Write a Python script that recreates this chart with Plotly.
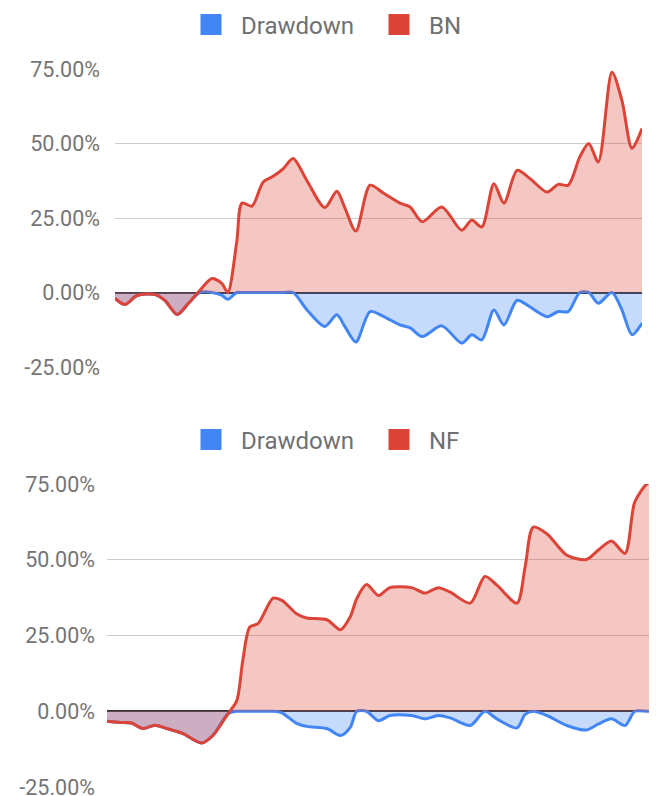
import plotly.graph_objects as go

# ---------------- data ----------------
# period positions (0..100 along the hidden x axis)
bn_period = [0, 1.9, 4.2, 7.6, 9.5, 11.8, 13.9, 16.1, 18.4, 20.3, 21.4, 23.1, 24.1, 26.0,
             28.1, 30.0, 31.9, 33.8, 36.4, 39.8, 42.1, 43.6, 45.7, 48.4, 50.9, 54.1, 56.0,
             58.3, 62.0, 65.8, 67.7, 69.6, 71.9, 73.8, 76.3, 78.7, 82.0, 84.1, 86.0, 88.2,
             89.9, 91.7, 94.3, 96.2, 98.1, 100]
bn_values = [-2.0, -4.0, -1.0, -0.7, -2.7, -7.4, -3.7, 0.7, 4.7, 3.0, 0.0, 17.0, 30.0, 29.0,
             37.0, 39.0, 41.5, 45.0, 37.6, 28.5, 34.0, 28.5, 20.6, 36.0, 33.4, 30.0, 28.7,
             23.7, 28.7, 20.9, 24.3, 22.0, 36.5, 30.0, 41.0, 38.3, 33.7, 36.3, 36.0, 45.5,
             50.0, 43.8, 73.9, 64.4, 48.4, 55.0]
bn_drawdown = [-2.0, -4.0, -1.0, -0.7, -2.7, -7.4, -3.7, 0.0, 0.0, -1.0, -2.3, 0.0, 0.0, 0.0,
               0.0, 0.0, 0.0, 0.0, -5.8, -11.4, -7.5, -11.4, -16.6, -6.4, -8.0, -10.9, -11.9,
               -14.8, -11.2, -17.0, -14.2, -15.9, -5.9, -10.9, -2.6, -4.8, -8.1, -6.4, -6.4, 0.0,
               0.0, -3.6, 0.0, -5.9, -14.2, -10.3]

nf_period = [0, 2.4, 4.5, 6.6, 8.8, 11.0, 14.0, 17.4, 19.5, 22.3, 23.9, 25.0, 26.3, 27.8,
             30.6, 32.2, 34.9, 36.8, 40.5, 43.0, 44.8, 46.0, 47.8, 50.0, 52.1, 56.1, 58.6,
             61.0, 63.2, 66.9, 69.6, 71.8, 75.5, 77.0, 78.5, 81.0, 84.7, 88.3, 90.5, 92.9,
             95.4, 97.2, 99.4, 100]
nf_values = [-3.3, -3.7, -3.9, -5.7, -4.6, -5.7, -7.4, -10.5, -8.0, -0.8, 3.5, 16.7, 27.8, 28.9,
             37.3, 36.6, 32.2, 30.8, 30.2, 26.9, 31.2, 37.2, 41.8, 38.2, 40.8, 40.8, 39.0,
             40.8, 39.3, 35.7, 44.5, 41.6, 35.7, 47.6, 60.8, 58.6, 51.5, 50.1, 53.2, 56.2,
             52.1, 69.1, 75.0, 75.4]
nf_drawdown = [-3.3, -3.7, -3.9, -5.7, -4.6, -5.7, -7.4, -10.5, -8.0, -0.8, 0.0, 0.0, 0.0, 0.0,
               0.0, -0.5, -4.0, -5.0, -5.7, -8.0, -5.3, 0.0, 0.0, -3.1, -1.4, -1.4, -2.5,
               -1.4, -2.2, -4.7, 0.0, -2.5, -5.5, -1.0, 0.0, -1.4, -4.7, -6.2, -4.2, -2.5,
               -4.7, 0.0, 0.0, 0.0]

tick_vals = [-25, 0, 25, 50, 75]
tick_text = ["-25.00%", "0.00%", "25.00%", "50.00%", "75.00%"]

BLUE = "#4285F4"
RED = "#DB4437"
BLUE_FILL = "rgba(66,133,244,0.3)"
RED_FILL = "rgba(219,68,55,0.3)"
FONT = "Roboto, Arial, sans-serif"

fig = go.Figure()


def add_panel(period, values, drawdown, name, xa, ya, legend):
    fig.add_trace(go.Scatter(x=period, y=drawdown, mode="lines", fill="tozeroy",
                             fillcolor=BLUE_FILL, line=dict(color=BLUE, width=3, shape="spline", smoothing=0.8),
                             xaxis=xa, yaxis=ya, showlegend=False, hoverinfo="skip"))
    fig.add_trace(go.Scatter(x=period, y=values, mode="lines", fill="tozeroy",
                             fillcolor=RED_FILL, line=dict(color=RED, width=3, shape="spline", smoothing=0.8),
                             xaxis=xa, yaxis=ya, showlegend=False, hoverinfo="skip"))
    for nm, col in (("Drawdown", BLUE), (name, RED)):
        fig.add_trace(go.Scatter(x=[None], y=[None], mode="markers", name=nm,
                                 marker=dict(symbol="square", size=16, color=col,
                                             line=dict(color=col, width=5)),
                                 xaxis=xa, yaxis=ya, legend=legend, showlegend=True))


add_panel(bn_period, bn_values, bn_drawdown, "BN", "x", "y", "legend")
add_panel(nf_period, nf_values, nf_drawdown, "NF", "x2", "y2", "legend2")

# the page body adds an 8px offset; lay the figure out relative to that
OFF = 8
W, H = 657 - OFF, 796


def fx(px):
    return (px - OFF) / W


def fy(py):
    return 1 - (py - OFF) / H


yaxis_common = dict(range=[-25, 75], tickvals=tick_vals, ticktext=tick_text,
                    showgrid=True, gridcolor="#cccccc", gridwidth=1,
                    zeroline=True, zerolinecolor="#333333", zerolinewidth=1.5,
                    showline=False, ticks="", automargin=False,
                    tickfont=dict(family=FONT, size=21.5, color="#757575"), fixedrange=True)
xaxis_common = dict(range=[0, 100], showgrid=False, zeroline=False, showline=False,
                    showticklabels=False, ticks="", automargin=False, fixedrange=True)

legend_common = dict(orientation="h", xanchor="left", yanchor="middle",
                     xref="container", yref="container",
                     font=dict(family=FONT, size=24, color="#707070"),
                     itemwidth=50, entrywidth=123, entrywidthmode="pixels",
                     bgcolor="rgba(0,0,0,0)", itemclick=False, itemdoubleclick=False)

fig.update_layout(
    template="none",
    width=W, height=H,
    margin=dict(l=0, r=0, t=0, b=0, autoexpand=False),
    paper_bgcolor="white", plot_bgcolor="white",
    xaxis=dict(domain=[fx(115), fx(642)], anchor="y", **xaxis_common),
    yaxis=dict(domain=[fy(367), fy(69)], anchor="x", ticklabelstandoff=14, **yaxis_common),
    xaxis2=dict(domain=[fx(107), fx(650)], anchor="y2", **xaxis_common),
    yaxis2=dict(domain=[fy(787), fy(484)], anchor="x2", ticklabelstandoff=11, **yaxis_common),
    legend=dict(x=fx(181), y=fy(25), **legend_common),
    legend2=dict(x=fx(181), y=fy(440), **legend_common),
    showlegend=True,
)

fig.write_html("out.html")
